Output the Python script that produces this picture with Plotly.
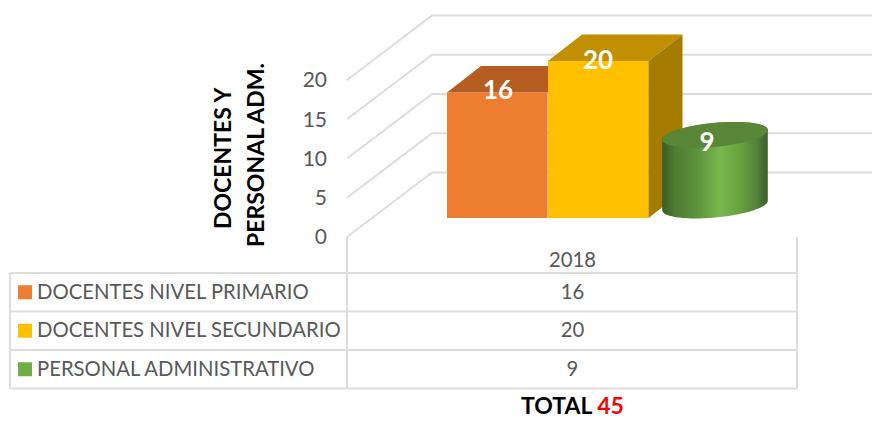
import math
import plotly.graph_objects as go

# ---- data ----
CATEGORIES = ["DOCENTES NIVEL PRIMARIO", "DOCENTES NIVEL SECUNDARIO", "PERSONAL ADMINISTRATIVO"]
VALUES = [16, 20, 9]
YEAR = "2018"
TICKS = [0, 5, 10, 15, 20]
AXIS_TITLE_LINES = ["DOCENTES Y", "PERSONAL ADM."]
TOTAL_LABEL = "TOTAL"
TOTAL_VALUE = 45

# ---- palette ----
FRONT = ["#ED7D31", "#FFC000", "#70AD47"]
TOPS = ["#B65D22", "#C09000", "#5A8638"]
SIDE = "#A67C00"
GRID = "#DDDDDD"
TXT = "#595959"
FONT = "Lato, Carlito, sans-serif"

# ---- geometry of the oblique projection (pixels) ----
W, H = 872, 421
PX_PER_UNIT = 7.85
ZERO_PX = 237
def Y(px):
    return (ZERO_PX - px) / PX_PER_UNIT
WALL_X, BACK_X, RIGHT_X = 347, 432, 872
WALL_DY = 64.5 / PX_PER_UNIT
BAR_BASE = Y(218)
BAR_LEFT = [447, 548]
BAR_W = 100.5
DEPTH_X, DEPTH_Y = 34, 26.5 / PX_PER_UNIT
TABLE_L, TABLE_C, TABLE_R = 10, 347, 797
TABLE_ROWS = [273, 311.5, 350, 388.5]

fig = go.Figure()
shapes = []
for t in TICKS:
    shapes.append(dict(type="path", layer="below", xref="x", yref="y",
                       path=f"M{WALL_X},{t} L{BACK_X},{t + WALL_DY} L{RIGHT_X},{t + WALL_DY}",
                       line=dict(color=GRID, width=2)))
def seg(x0, p0, x1, p1):
    shapes.append(dict(type="line", layer="below", xref="x", yref="y",
                       x0=x0, x1=x1, y0=Y(p0), y1=Y(p1), line=dict(color=GRID, width=2)))
for p in TABLE_ROWS:
    seg(TABLE_L, p, TABLE_R, p)
seg(TABLE_L, TABLE_ROWS[0], TABLE_L, TABLE_ROWS[-1])
seg(TABLE_C, ZERO_PX, TABLE_C, TABLE_ROWS[-1])
seg(TABLE_R, ZERO_PX, TABLE_R, TABLE_ROWS[-1])

# square bar front faces
for i in (0, 1):
    fig.add_trace(go.Bar(x=[BAR_LEFT[i] + BAR_W / 2], y=[VALUES[i]], base=BAR_BASE, width=BAR_W,
                         marker=dict(color=FRONT[i], line=dict(width=0)), showlegend=False,
                         name=CATEGORIES[i]))

def poly(xs, ys, color, **kw):
    fig.add_trace(go.Scatter(x=xs, y=ys, mode="none", fill="toself", fillcolor=color,
                             showlegend=False, **kw))

# orange top (cut where the taller bar hides it)
top0 = BAR_BASE + VALUES[0]
l0 = BAR_LEFT[0]; r0 = BAR_LEFT[1]
poly([l0, l0 + DEPTH_X, r0, r0, l0], [top0, top0 + DEPTH_Y, top0 + DEPTH_Y, top0, top0], TOPS[0])
# yellow top and side
top1 = BAR_BASE + VALUES[1]
l1 = BAR_LEFT[1]; r1 = l1 + BAR_W
poly([l1, l1 + DEPTH_X, r1 + DEPTH_X, r1, l1], [top1, top1 + DEPTH_Y, top1 + DEPTH_Y, top1, top1], TOPS[1])
poly([r1, r1 + DEPTH_X, r1 + DEPTH_X, r1, r1],
     [top1, top1 + DEPTH_Y, BAR_BASE + DEPTH_Y, BAR_BASE, top1], SIDE)

# cylinder
CX, A, B, TILT = 715, 53, 12, 0.095
CYL_BASE = Y(205.5)
cyl_top = CYL_BASE + VALUES[2]
def ell(t, base):
    x = CX + A * math.cos(t) * math.cos(TILT) - B * math.sin(t) * math.sin(TILT)
    y = A * math.cos(t) * math.sin(TILT) + B * math.sin(t) * math.cos(TILT)
    return x, base + y / PX_PER_UNIT
N = 72
tE = math.atan2(-B * math.sin(TILT), A * math.cos(TILT))
upper = [ell(tE + math.pi - math.pi * k / N, cyl_top) for k in range(N + 1)]
lower = [ell(tE - math.pi * k / N, CYL_BASE) for k in range(N + 1)]
body = upper + lower
fig.add_trace(go.Scatter(
    x=[p[0] for p in body] + [body[0][0]], y=[p[1] for p in body] + [body[0][1]],
    mode="none", fill="toself", showlegend=False, name=CATEGORIES[2],
    fillgradient=dict(type="horizontal", colorscale=[
        [0, "#3A5C25"], [0.12, "#4F7D33"], [0.3, "#5B8F3B"], [0.55, "#78B74E"],
        [0.75, "#67A03F"], [0.9, "#52803A"], [1, "#3C5F27"]])))
cap = [ell(2 * math.pi * k / N, cyl_top) for k in range(N + 1)]
poly([p[0] for p in cap], [p[1] for p in cap], TOPS[2])

# value labels
lab_x = [BAR_LEFT[0] + 51, BAR_LEFT[1] + 50, 707]
lab_y = [top0 - 0.5 / PX_PER_UNIT, top1 - 1.5 / PX_PER_UNIT, cyl_top - 10 / PX_PER_UNIT]
fig.add_trace(go.Scatter(x=lab_x, y=lab_y, mode="text", text=[f"<b>{v}</b>" for v in VALUES],
                         textposition="middle center", showlegend=False,
                         textfont=dict(family=FONT, size=26, color="white")))

# data table
row_mid = [(TABLE_ROWS[i] + TABLE_ROWS[i + 1]) / 2 for i in range(3)]
row_y = [Y(p) for p in row_mid]
text_y = [Y(p + 1.5) for p in row_mid]
fig.add_trace(go.Scatter(x=[25] * 3, y=row_y, mode="markers", showlegend=False,
                         marker=dict(symbol="square", size=14, color=FRONT, line=dict(width=0))))
fig.add_trace(go.Scatter(x=[37] * 3, y=text_y, mode="text", text=CATEGORIES, showlegend=False,
                         textposition="middle right",
                         textfont=dict(family=FONT, size=20.3, color=TXT)))
fig.add_trace(go.Scatter(x=[572.5] * 4, y=[Y(262)] + text_y, mode="text",
                         text=[YEAR] + [str(v) for v in VALUES], showlegend=False,
                         textposition="middle center",
                         textfont=dict(family=FONT, size=20.3, color=TXT)))

fig.update_layout(
    width=W, height=H, margin=dict(l=0, r=0, t=0, b=0),
    paper_bgcolor="white", plot_bgcolor="white", barmode="overlay", showlegend=False,
    shapes=shapes, hovermode=False,
    xaxis=dict(range=[0, W], visible=False, fixedrange=True),
    yaxis=dict(range=[Y(H), Y(0)], anchor="free", position=327 / W, fixedrange=True,
               tickvals=TICKS, ticktext=[str(t) for t in TICKS], showgrid=False, zeroline=False,
               showline=False, ticks="", tickfont=dict(family=FONT, size=21, color=TXT)),
    annotations=[
        dict(x=222, y=Y(158), xref="x", yref="y", text=f"<b>{AXIS_TITLE_LINES[0]}</b>", textangle=-90,
             showarrow=False, font=dict(family=FONT, size=23, color="black")),
        dict(x=255, y=Y(155), xref="x", yref="y", text=f"<b>{AXIS_TITLE_LINES[1]}</b>", textangle=-90,
             showarrow=False, font=dict(family=FONT, size=23, color="black")),
        dict(x=572, y=Y(419.5), xref="x", yref="y", yanchor="bottom", showarrow=False, borderpad=0,
             text=f"<b>{TOTAL_LABEL} <span style='color:#FF0000'>{TOTAL_VALUE}</span></b>",
             font=dict(family=FONT, size=23, color="black")),
    ],
)
fig.write_html("out.html", config={"displayModeBar": False},
               post_script="document.body.style.margin='0';")
